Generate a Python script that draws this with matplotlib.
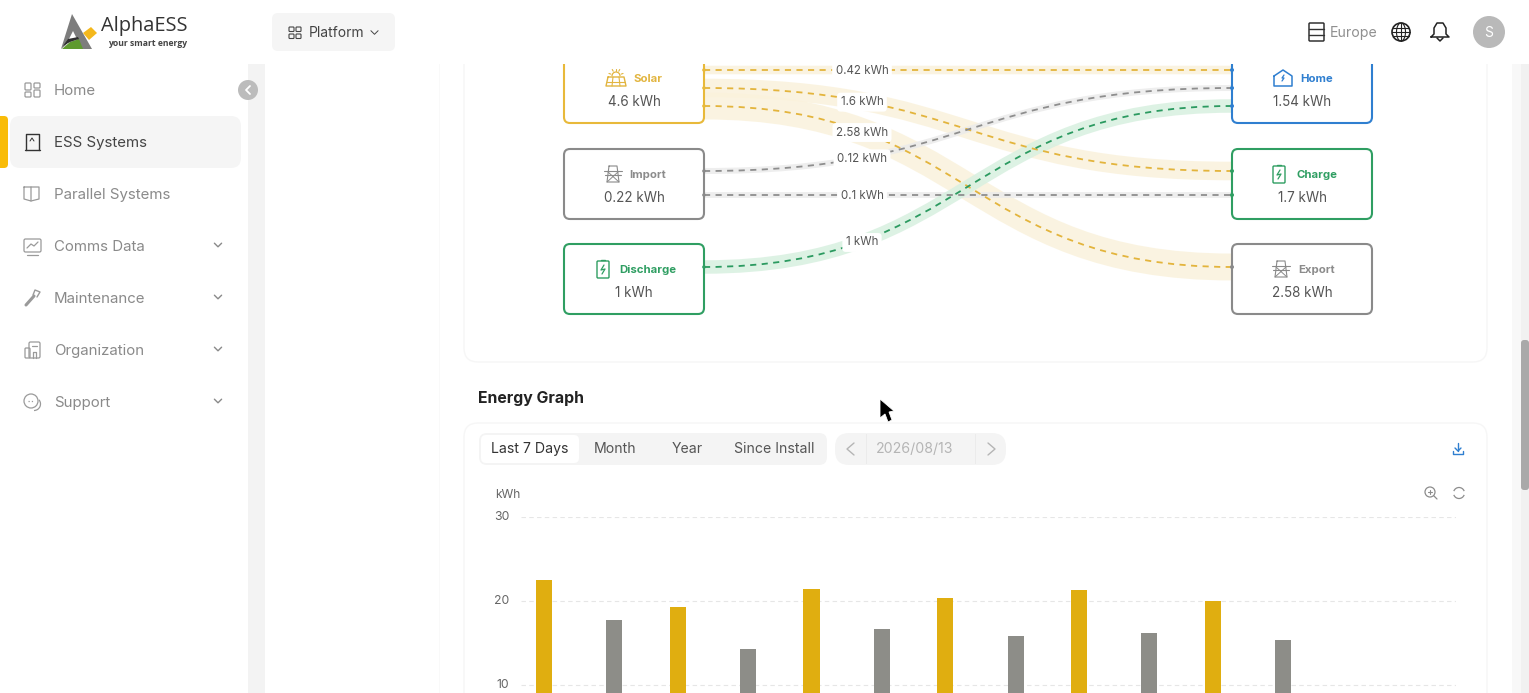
#!/usr/bin/python
# -*-coding: utf-8 -*-

import numpy as np
import matplotlib
matplotlib.use('Agg')
import matplotlib.pyplot as plt
from matplotlib.patches import FancyBboxPatch, Rectangle, Circle, Polygon, PathPatch, Arc
from matplotlib.path import Path
from matplotlib.transforms import ScaledTranslation

plt.rcParams['font.family'] = ['Inter', 'DejaVu Sans']

# Data
menu_items = ['Home', 'ESS Systems', 'Parallel Systems', 'Comms Data', 'Maintenance', 'Organization', 'Support']
menu_expandable = [False, False, False, True, True, True, True]
source_names = ['Solar', 'Import', 'Discharge']
source_values = ['4.6 kWh', '0.22 kWh', '1 kWh']
target_names = ['Home', 'Charge', 'Export']
target_values = ['1.54 kWh', '1.7 kWh', '2.58 kWh']
flow_values = [0.42, 1.6, 2.58, 0.12, 0.1, 1]
flow_labels = ['0.42 kWh', '1.6 kWh', '2.58 kWh', '0.12 kWh', '0.1 kWh', '1 kWh']
flow_kinds = ['solar', 'solar', 'solar', 'grid', 'grid', 'battery']
tabs = ['Last 7 Days', 'Month', 'Year', 'Since Install']
energy_ticks = [10, 20, 30]
energy_gold = [22.5, 19.3, 21.4, 20.3, 21.3, 20.0]
energy_gray = [17.7, 14.3, 16.7, 15.8, 16.2, 15.4]

# Layout, in screenshot pixels
W, H = 1529, 693
slot_left = [70, 88, 106, 171, 195, 267]
slot_right = [70, 171, 267, 88, 195, 106]
slot_right_colour = ['#2f7fd0', '#2f9e62', '#8a8a8a', '#2f7fd0', '#2f9e62', '#2f7fd0']
node_tops = [53, 149, 244]
source_colours = ['#e8b93a', '#8a8a8a', '#2f9e62']
target_colours = ['#2f7fd0', '#2f9e62', '#8a8a8a']
title_colours_left = ['#e2b540', '#8c8c8c', '#2f9e62']
title_colours_right = ['#2f7fd0', '#2f9e62', '#8c8c8c']
band_colours = {'solar': '#faf2dc', 'grid': '#ebebeb', 'battery': '#d8f0e0'}
dash_colours = {'solar': '#e3b43c', 'grid': '#8e8e8e', 'battery': '#2b9a60'}

fig = plt.figure(figsize=(W / 100, H / 100), dpi=100, facecolor='white')
ax = fig.add_axes([0, 0, 1, 1])
ax.set_xlim(0, W)
ax.set_ylim(H, 0)
ax.axis('off')


def box(x, y, w, h, r, fc='none', ec='none', lw=0, z=2):
    ax.add_patch(FancyBboxPatch((x + r, y + r), w - 2 * r, h - 2 * r,
                                boxstyle='round,pad=%s,rounding_size=%s' % (r, r),
                                fc=fc, ec=ec, lw=lw, zorder=z))


def line(xs, ys, colour, lw=1.0, z=7, **kw):
    ax.plot(xs, ys, color=colour, lw=lw, zorder=z, solid_capstyle='round',
            solid_joinstyle='round', **kw)


def chevron(x, y, colour, s=4, lw=1.0, z=7):
    line([x - s, x, x + s], [y - s * 0.5, y + s * 0.5, y - s * 0.5], colour, lw, z)


# va='center' sits about a pixel high with this font
def txt(x, y, s, **kw):
    kw.setdefault('va', 'center')
    return ax.text(x, y + 1, s, **kw)


# Page background
ax.add_patch(Rectangle((248, 64), 17, H - 64, fc='#f3f3f3', ec='none', zorder=0))
ax.add_patch(Rectangle((439, 64), 1, H - 64, fc='#f9f9f9', ec='none', zorder=0))
box(464, 20, 1023, 342, 14, fc='white', ec='#f6f6f6', lw=1, z=1)
box(464, 423, 1023, 330, 14, fc='white', ec='#f6f6f6', lw=1, z=1)


# Flows of the upper chart
def flow_path(y0, y1):
    mid = (704 + 1232) / 2
    return Path([(704, y0), (mid, y0), (mid, y1), (1232, y1)],
                [Path.MOVETO, Path.CURVE4, Path.CURVE4, Path.CURVE4])


for y0, y1, value, kind in zip(slot_left, slot_right, flow_values, flow_kinds):
    ax.add_patch(PathPatch(flow_path(y0, y1), fc='none', ec=band_colours[kind],
                           lw=(5 + value * 8.5) * 0.72, alpha=0.85, capstyle='butt', zorder=2))
for y0, y1, kind in zip(slot_left, slot_right, flow_kinds):
    ax.add_patch(PathPatch(flow_path(y0, y1), fc='none', ec=dash_colours[kind], lw=1.3,
                           linestyle=(0, (3.4, 3.0)), zorder=3))

label_t = 0.252
for y0, y1, label in zip(slot_left, slot_right, flow_labels):
    y = y0 + (y1 - y0) * (3 * label_t ** 2 - 2 * label_t ** 3)
    txt(862, y, label, ha='center', fontsize=8.3, color='#555555', zorder=4,
        bbox=dict(fc='white', ec='none', boxstyle='round,pad=0.3'))

# Nodes
for top, name, value, colour, title_colour in zip(node_tops, source_names, source_values,
                                                  source_colours, title_colours_left):
    box(564, top, 140, 70, 6, fc='white', ec=colour, lw=1.5, z=5)
    txt(648, top + 25, name, ha='center', fontsize=8.2, weight='bold', color=title_colour, zorder=6)
    txt(634, top + 48, value, ha='center', fontsize=9.7, color='#555555', zorder=6)
for top, name, value, colour, title_colour in zip(node_tops, target_names, target_values,
                                                  target_colours, title_colours_right):
    box(1232, top, 140, 70, 6, fc='white', ec=colour, lw=1.5, z=5)
    txt(1317, top + 25, name, ha='center', fontsize=8.2, weight='bold', color=title_colour, zorder=6)
    txt(1302, top + 48, value, ha='center', fontsize=9.7, color='#555555', zorder=6)

for y0, colour_index in zip(slot_left, [0, 0, 0, 1, 1, 2]):
    ax.add_patch(Circle((704, y0), 1.8, fc=source_colours[colour_index], ec='none', zorder=6))
for y1, colour in zip(slot_right, slot_right_colour):
    ax.add_patch(Circle((1232, y1), 2.0, fc=colour, ec='none', zorder=6))


# Node icons
def tower(cx, cy, colour):
    line([cx - 4, cx + 4, cx + 6, cx - 6, cx - 4], [cy - 8, cy - 8, cy + 8, cy + 8, cy - 8], colour, 0.8)
    line([cx - 9, cx + 9], [cy - 3, cy - 3], colour, 0.8)
    line([cx - 8, cx + 8], [cy + 1, cy + 1], colour, 0.8)
    line([cx - 5, cx + 6], [cy - 2, cy + 8], colour, 0.7)
    line([cx + 5, cx - 6], [cy - 2, cy + 8], colour, 0.7)


def battery(cx, cy, colour):
    box(cx - 6, cy - 8, 12, 17, 1, ec=colour, lw=1.0, z=7)
    line([cx - 2, cx + 2], [cy - 9.5, cy - 9.5], colour, 1.0)
    line([cx + 1, cx - 2, cx + 2, cx - 1], [cy - 4, cy + 1, cy, cy + 5], colour, 0.9)


tower(613, 174, '#8a8a8a')
tower(1281, 269, '#8a8a8a')
battery(603, 269, '#2f9e62')
battery(1279, 174, '#2f9e62')
# solar panel
line([608, 624, 626, 606, 608], [77, 77, 86, 86, 77], '#e2b540', 1.0)
line([607, 625], [81.5, 81.5], '#e2b540', 0.8)
line([613, 612], [77, 86], '#e2b540', 0.8)
line([619, 620], [77, 86], '#e2b540', 0.8)
ax.add_patch(Arc((616, 76), 8, 8, theta1=180, theta2=360, ec='#e2b540', lw=0.9, zorder=7))
for angle in np.radians([200, 240, 270, 300, 340]):
    line([616 + 5.5 * np.cos(angle), 616 + 7.5 * np.cos(angle)],
         [76 + 5.5 * np.sin(angle), 76 + 7.5 * np.sin(angle)], '#e2b540', 0.8)
# home
line([1274, 1283, 1292, 1292, 1274, 1274], [76, 70, 76, 86, 86, 76], '#2f7fd0', 1.1)
line([1284, 1282, 1284, 1282], [75, 78, 78, 81], '#2f7fd0', 0.9)

# Header and sidebar on top of the flows
ax.add_patch(Rectangle((0, 0), W, 64, fc='white', ec='none', zorder=10))
box(-40, -40, 288, H + 40, 18, fc='white', z=10)
ax.add_patch(Rectangle((1512, 64), 9, H - 64, fc='#f8f8f8', ec='none', zorder=10))
ax.add_patch(Rectangle((1521, 64), 8, H - 64, fc='#f1f1f1', ec='none', zorder=10))
box(1521, 340, 8, 150, 3, fc='#a9a9a9', z=11)
Z = 12

# Logo
ax.add_patch(Polygon([(61, 49), (72, 14), (92, 49), (82, 49), (73, 31), (66, 45)], fc='#7d7d7d', ec='none', zorder=Z))
ax.add_patch(Polygon([(62, 49), (70, 42), (79, 39), (83, 49)], fc='#5f9a2f', ec='none', zorder=Z))
ax.add_patch(Polygon([(63, 46), (68, 39), (78, 37), (79, 39), (70, 42)], fc='#2f2f2f', ec='none', zorder=Z))
ax.add_patch(Polygon([(83, 33), (91, 27), (97, 33), (89, 40)], fc='#f4b81c', ec='none', zorder=Z))
ax.text(101, 26, 'AlphaESS', ha='left', va='center', fontsize=14.4, color='#333333', zorder=Z,
        family=['Open Sans', 'DejaVu Sans'])
ax.text(187, 43, 'your smart energy', ha='right', va='center', fontsize=6.2, color='#444444', zorder=Z,
        family=['Open Sans', 'DejaVu Sans'], weight='bold')

# Sidebar menu
box(10, 116, 231, 52, 10, fc='#f5f5f5', z=Z)
box(-8, 116, 16, 52, 4, fc='#f9bc08', z=Z + 1)
ax.add_patch(Circle((248, 90), 10, fc='#bcbcbc', ec='none', zorder=Z))
line([250, 246, 250], [86, 90, 94], 'white', 1.3, Z + 1)
menu_y = 90
for i, item in enumerate(menu_items):
    y = menu_y + i * 52
    active = item == 'ESS Systems'
    colour = '#444444' if active else '#8a8a8a'
    txt(54, y, item, ha='left', fontsize=10.8, color=colour, zorder=Z + 1)
    if menu_expandable[i]:
        chevron(218, y - 1, '#8a8a8a', 3.6, 1.0, Z + 1)
    icon_colour = '#333333' if active else '#9a9a9a'
    if item == 'Home':
        for dx, dy, h in [(-7, -7, 7), (2, -7, 5), (-7, 2, 5), (2, 0, 7)]:
            box(25 + 7 + dx, y + dy, 6, h, 1, ec=icon_colour, lw=0.9, z=Z + 1)
    elif item == 'ESS Systems':
        line([26, 26, 39, 39], [y + 8, y - 8, y - 8, y + 8], icon_colour, 1.0, Z + 1)
        line([25, 40], [y + 8, y + 8], icon_colour, 1.0, Z + 1)
        line([30, 32, 34], [y - 1, y - 4, y - 1], icon_colour, 0.7, Z + 1)
    elif item == 'Parallel Systems':
        line([24, 24, 31, 31, 24], [y - 7, y + 5, y + 7, y - 7, y - 7], icon_colour, 0.9, Z + 1)
        line([31, 39, 39, 31], [y - 7, y - 7, y + 5, y + 7], icon_colour, 0.9, Z + 1)
    elif item == 'Comms Data':
        box(24, y - 7, 17, 13, 1.5, ec=icon_colour, lw=0.9, z=Z + 1)
        line([27, 31, 34, 38], [y + 2, y - 2, y, y - 4], icon_colour, 0.9, Z + 1)
        line([27, 38], [y + 8.5, y + 8.5], icon_colour, 0.9, Z + 1)
    elif item == 'Maintenance':
        line([26, 34], [y + 7, y - 2], icon_colour, 2.2, Z + 1)
        line([33, 35, 40, 37], [y - 3, y - 8, y - 6, y - 1], icon_colour, 1.0, Z + 1)
    elif item == 'Organization':
        box(29, y - 8, 11, 16, 1.5, ec=icon_colour, lw=0.9, z=Z + 1)
        box(25, y - 2, 5, 10, 1, ec=icon_colour, lw=0.9, z=Z + 1)
        line([32, 37], [y - 4, y - 4], icon_colour, 0.9, Z + 1)
        line([33, 33, 36, 36], [y + 8, y + 2, y + 2, y + 8], icon_colour, 0.9, Z + 1)
    else:
        ax.add_patch(Circle((31, y - 1), 7, fc='white', ec=icon_colour, lw=0.9, zorder=Z + 1))
        ax.add_patch(Arc((34, y + 2), 13, 13, theta1=-40, theta2=90, ec=icon_colour, lw=0.9, zorder=Z + 1))
        line([28, 31, 34], [y - 1, y - 1, y - 1], icon_colour, 0.9, Z + 1, linestyle=':')

# Header controls
box(272, 13, 123, 38, 6, fc='#f5f5f5', z=Z)
for dx, dy in [(0, 0), (7, 0), (0, 7), (7, 7)]:
    box(289 + dx, 27 + dy, 5, 4.5, 0.8, ec='#444444', lw=0.8, z=Z + 1)
txt(309, 32, 'Platform', ha='left', fontsize=10, color='#444444', zorder=Z + 1)
chevron(374.5, 32.5, '#444444', 3.6, 0.7, Z + 1)
box(1309, 23, 15, 18, 1, ec='#333333', lw=1.1, z=Z)
line([1309, 1324], [29, 29], '#333333', 1.0, Z)
line([1309, 1324], [35, 35], '#333333', 1.0, Z)
txt(1330, 32, 'Europe', ha='left', fontsize=10.2, color='#909090', zorder=Z)
ax.add_patch(Circle((1401, 32), 9, fc='none', ec='#222222', lw=1.2, zorder=Z))
line([1392, 1410], [32, 32], '#222222', 0.8, Z)
line([1393, 1409], [28, 28], '#222222', 0.8, Z)
line([1393, 1409], [36, 36], '#222222', 0.8, Z)
line([1401, 1401], [23, 41], '#222222', 0.8, Z)
ax.add_patch(Polygon([(1401 + 4.5 * np.sin(a), 32 + 9 * np.cos(a)) for a in np.linspace(0, 2 * np.pi, 40)],
                     fc='none', ec='#222222', lw=0.8, zorder=Z))
line([1431, 1434, 1434, 1437, 1443, 1446, 1446, 1449, 1431],
     [37, 34, 28, 23, 23, 28, 34, 37, 37], '#222222', 1.1, Z)
line([1437, 1440, 1443], [38, 41, 38], '#222222', 1.1, Z)
ax.add_patch(Circle((1489, 32), 16, fc='#b9b9b9', ec='none', zorder=Z))
txt(1489, 32, 'S', ha='center', fontsize=10, color='white', zorder=Z + 1)

# Energy graph toolbar
txt(478, 397, 'Energy Graph', ha='left', fontsize=11.4, weight='bold', color='#222222', zorder=5)
box(479, 433, 348, 32, 8, fc='#f4f4f4', z=3)
box(481, 435, 98, 28, 5, fc='white', z=4)
for name, x in zip(tabs, [530, 615, 687, 774]):
    txt(x, 448, name, ha='center', fontsize=10.15,
        color='#333333' if name == tabs[0] else '#555555', zorder=5)
box(835, 433, 171, 32, 14, fc='#f4f4f4', z=3)
ax.add_patch(Rectangle((866, 434), 1, 30, fc='#ebebeb', ec='none', zorder=4))
ax.add_patch(Rectangle((975, 434), 1, 30, fc='#ebebeb', ec='none', zorder=4))
line([854, 847, 854], [443, 449, 455], '#b5b5b5', 1.0, 5)
line([988, 995, 988], [443, 449, 455], '#b5b5b5', 1.0, 5)
txt(915, 448, '2026/08/13', ha='center', fontsize=10.2, color='#b5b5b5', zorder=5)
line([1458, 1458], [443, 451], '#2f7fd0', 1.0, 5)
line([1455, 1458, 1461], [448, 451, 448], '#2f7fd0', 1.0, 5)
line([1453, 1453, 1463, 1463], [451, 454, 454, 451], '#2f7fd0', 1.0, 5)

ax.add_patch(Circle((1430, 492), 5, fc='none', ec='#8c8c8c', lw=0.9, zorder=5))
line([1434, 1437], [496, 499], '#8c8c8c', 0.9, 5)
line([1428, 1432], [492, 492], '#8c8c8c', 0.8, 5)
line([1430, 1430], [490, 494], '#8c8c8c', 0.8, 5)
ax.add_patch(Arc((1459, 493), 11, 11, theta1=20, theta2=160, ec='#8c8c8c', lw=0.9, zorder=5))
ax.add_patch(Arc((1459, 493), 11, 11, theta1=200, theta2=340, ec='#8c8c8c', lw=0.9, zorder=5))
txt(495, 494, 'kWh', ha='left', fontsize=8.6, color='#666666', zorder=5)

# Mouse pointer
ax.add_patch(Polygon([(880, 399), (880, 418), (885, 414), (888, 422), (892, 420), (889, 412), (894, 411)],
                     fc='black', ec='white', lw=0.6, zorder=9))

# Energy bars
bar_top_px, bar_left_px, bar_right_px = 517, 521, 1456
px_per_kwh = 8.4
chart = fig.add_axes([bar_left_px / W, 0, (bar_right_px - bar_left_px) / W, (H - bar_top_px) / H], zorder=3)
chart.patch.set_alpha(0)
chart.set_xlim(0, 6.985)
chart.set_ylim(30 - (H - bar_top_px) / px_per_kwh, 30)
days = np.arange(len(energy_gold)) + 0.5
chart.bar(days - 0.33, energy_gold, width=0.12, color='#e0ae10', zorder=3)
chart.bar(days + 0.195, energy_gray, width=0.12, color='#8d8d88', zorder=3)
chart.set_yticks(energy_ticks)
chart.set_xticks([])
chart.tick_params(axis='y', length=0, pad=8.5, labelsize=8.8, labelcolor='#666666')
chart.grid(axis='y', color='#e6e6e6', lw=0.8, linestyle=(0, (4, 3)), zorder=0)
for side in chart.spines.values():
    side.set_visible(False)
nudge = ScaledTranslation(0, 0.02, fig.dpi_scale_trans)
for tick in chart.get_yticklabels():
    tick.set_clip_on(False)
    tick.set_transform(tick.get_transform() + nudge)

fig.savefig('out.png', dpi=100, facecolor='white')
